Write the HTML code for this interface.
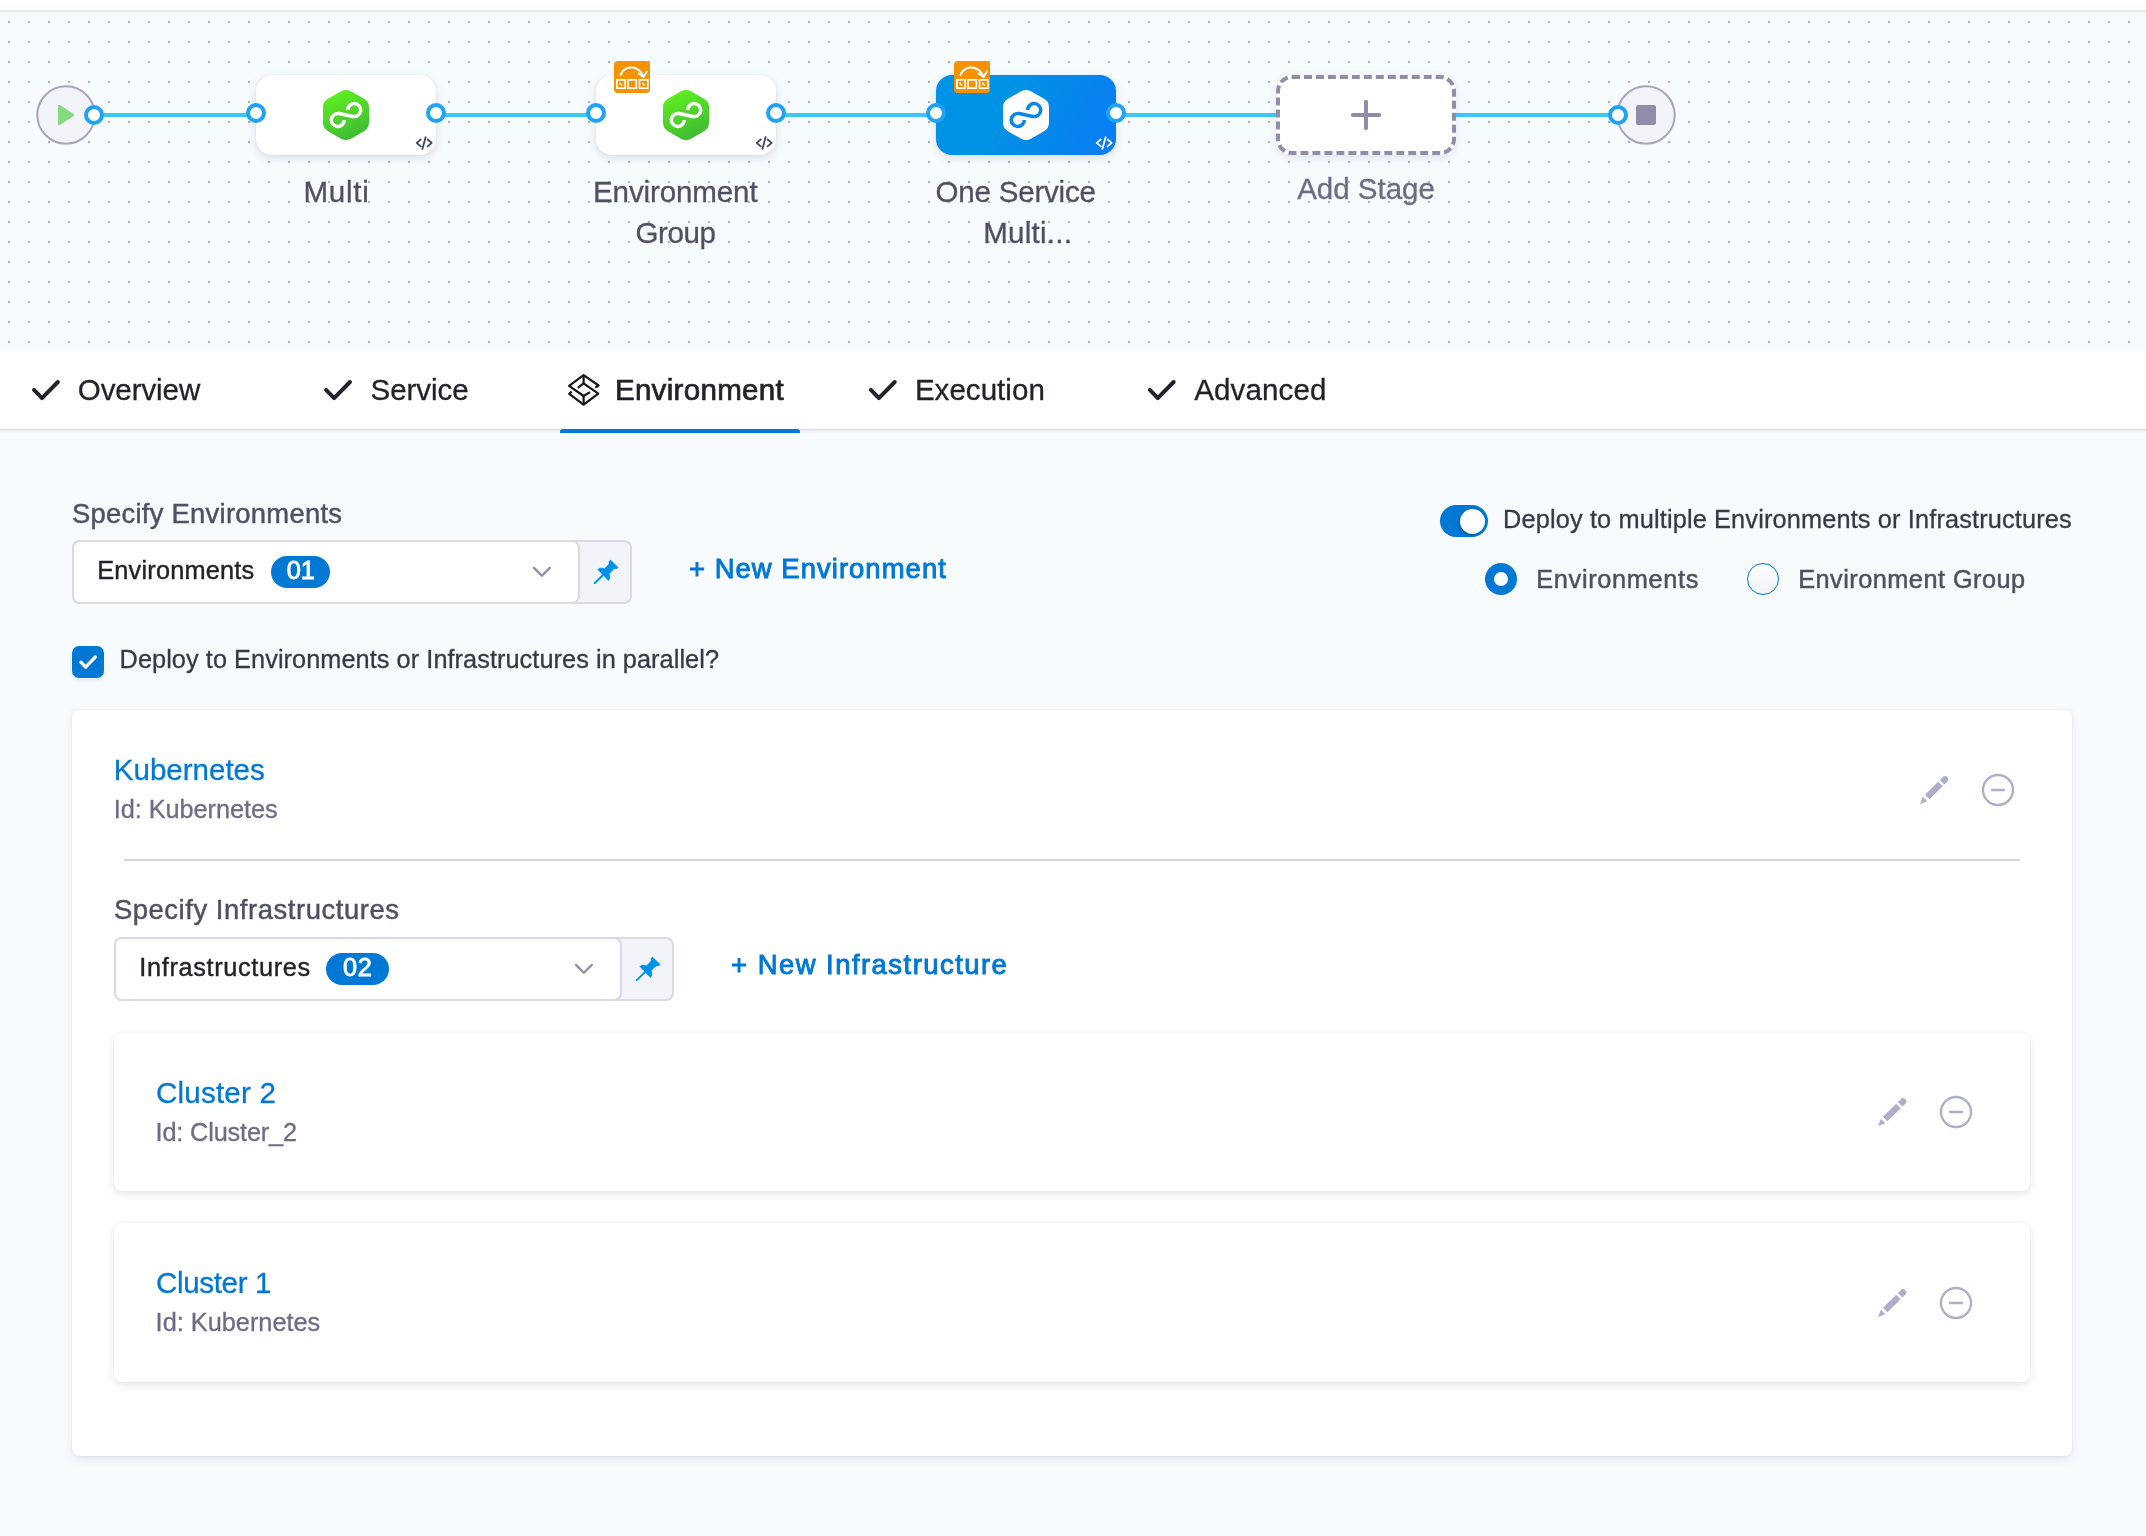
<!DOCTYPE html>
<html lang="en"><head><meta charset="utf-8"><title>Pipeline Studio</title>
<style>
*{box-sizing:border-box;margin:0;padding:0}
html,body{width:2146px;height:1536px;overflow:hidden}
body{position:relative;background:#f7fbfe;font-family:"Liberation Sans",sans-serif;-webkit-font-smoothing:antialiased}
.abs{position:absolute}
.t{position:absolute;white-space:nowrap;line-height:1;-webkit-text-stroke:.3px}
.canvas{left:0;top:12px;width:2146px;height:339px;background:#f6fbfe}
.node{position:absolute;top:75px;width:180px;height:80px;border-radius:16px;background:#fff;box-shadow:0 0 2px rgba(40,41,61,.06),0 3px 8px rgba(96,97,112,.18)}
.node.sel{background:linear-gradient(115deg,#0092e4 38%,#0a7bf5 100%)}
.node.add{border:4px dashed #8f8eaa;box-shadow:0 3px 8px rgba(96,97,112,.14)}
.tabbar{left:0;top:351px;width:2146px;height:78px;background:#fff;box-shadow:0 1px 0 #e3e3e6,0 2px 0 #ebecef,0 3px 0 #f1f3f6,0 4px 0 #f5f8fb}
.uline{left:560px;top:429px;width:240px;height:4px;background:#0278d5;border-radius:3px 3px 0 0}
.card{background:#fff;border-radius:8px}
.outer{left:72px;top:710px;width:2000px;height:746px;box-shadow:0 0 2px rgba(40,41,61,.06),0 3px 8px rgba(96,97,112,.15)}
.inner{left:114px;width:1916px;height:159px;box-shadow:0 0 2px rgba(40,41,61,.06),0 3px 8px rgba(96,97,112,.16)}
.selwrap{height:64px;width:560px;border:2px solid #d9dae5;border-radius:8px;background:#f3f3fa}
.selin{height:64px;width:508px;border:2px solid #d9dae5;border-radius:8px;background:#fff}
.pill{height:32px;border-radius:16px;background:#0278d5}
.cbx{left:72px;top:646px;width:32px;height:32px;border-radius:7px;background:#0278d5;box-shadow:0 0 0 1px rgba(255,255,255,.9),0 2px 4px rgba(2,120,213,.15)}
.toggle{left:1440px;top:505px;width:48px;height:32px;border-radius:16px;background:#0278d5}
.knob{left:1459.5px;top:508.5px;width:25px;height:25px;border-radius:50%;background:#fff;box-shadow:-1px 1px 3px rgba(0,0,0,.25)}
.radio{width:32px;height:32px;border-radius:50%}
</style></head>
<body>
<!-- top strip -->
<div class="abs" style="left:0;top:0;width:2146px;height:10px;background:#fff"></div>
<div class="abs" style="left:0;top:10px;width:2146px;height:1px;background:#ececee"></div>
<div class="abs" style="left:0;top:11px;width:2146px;height:1px;background:#e2e2e4"></div>

<!-- pipeline canvas -->
<div class="abs canvas"></div>
<svg class="abs" style="left:0;top:0" width="2146" height="350" viewBox="0 0 2146 350">
  <defs>
    <pattern id="dots" x="8" y="21" width="20" height="20" patternUnits="userSpaceOnUse"><rect x="0" y="0" width="2" height="2" fill="#abaeb3"/></pattern>
  </defs>
  <rect x="0" y="12" width="2146" height="338" fill="url(#dots)"/>
  <!-- connector lines -->
  <g fill="#3dc7f6">
    <rect x="94" y="113" width="162" height="4"/>
    <rect x="436" y="113" width="160" height="4"/>
    <rect x="776" y="113" width="160" height="4"/>
    <rect x="1116" y="113" width="160" height="4"/>
    <rect x="1456" y="113" width="162" height="4"/>
  </g>
  <!-- start / end -->
  <circle cx="66" cy="115" r="28.7" fill="#f3f3fa" stroke="#a8a4c0" stroke-width="2"/>
  <path d="M59.2,106 L73,115 L59.2,124 Z" fill="#86d981" stroke="#86d981" stroke-width="2.4" stroke-linejoin="round"/>
  <circle cx="1646" cy="115" r="28.7" fill="#f3f3fa" stroke="#a8a4c0" stroke-width="2"/>
  <rect x="1636" y="105" width="20" height="20" rx="2" fill="#8f8eaa"/>
</svg>

<!-- stage nodes -->
<div class="node" style="left:256px"></div>
<div class="node" style="left:596px"></div>
<div class="node sel" style="left:936px"></div>
<div class="node add" style="left:1276px"></div>

<svg class="abs" style="left:0;top:0" width="2146" height="350" viewBox="0 0 2146 350">
  <defs>
    <linearGradient id="gg" x1="0.3" y1="0" x2="0.7" y2="1"><stop offset="0" stop-color="#60f01f"/><stop offset="1" stop-color="#3db835"/></linearGradient>
    <path id="hex" d="M-5.00,-23.67 A10,10 0 0 1 5.00,-23.67 L18.00,-16.17 A10,10 0 0 1 23.00,-7.51 L23.00,7.51 A10,10 0 0 1 18.00,16.17 L5.00,23.67 A10,10 0 0 1 -5.00,23.67 L-18.00,16.17 A10,10 0 0 1 -23.00,7.51 L-23.00,-7.51 A10,10 0 0 1 -18.00,-16.17 Z"/>
    <path id="inf" d="M1.70,-4.90 A6.5,6.5 0 1 1 6.85,1.46 L-6.85,-1.46 A6.5,6.5 0 1 0 -1.70,4.90" fill="none" stroke-width="3.5"/>
    <g id="code" fill="none" stroke-width="1.8" stroke-linecap="round" stroke-linejoin="round">
      <path d="M4.7,3.5 L0.7,6.9 L4.7,10.4"/><path d="M9.6,1.2 L6.4,12.9"/><path d="M11.6,3.5 L15.7,6.9 L11.6,10.4"/>
    </g>
    <g id="badge">
      <rect x="0" y="0" width="36" height="32" rx="4" fill="#f79100"/>
      <path d="M6.5,13.9 C8.7,7.8 14.8,5.4 20,6.8 C24.2,8 27.5,11.2 29.3,15.4" fill="none" stroke="#fff" stroke-width="2" stroke-linecap="round"/>
      <path d="M24.6,12.5 L29.5,15.9 L32.7,10.7" fill="none" stroke="#fff" stroke-width="2" stroke-linecap="round" stroke-linejoin="round"/>
      <g fill="none" stroke="#fff" stroke-width="1.7">
        <rect x="2.9" y="18.9" width="8.3" height="8.3"/><rect x="14" y="18.9" width="8.3" height="8.3"/><rect x="25.5" y="18.9" width="8.3" height="8.3"/>
      </g>
      <path d="M6.1,22.4 L7.5,23.9 M28.7,22.4 L30.2,24" stroke="#fff" stroke-width="1.6" stroke-linecap="round"/>
    </g>
    <g id="port"><circle cx="0" cy="0" r="8" fill="#fff" stroke="#21a3f5" stroke-width="4"/></g>
  </defs>
  <!-- Add stage dashed -->
  <path d="M1352.8,115 H1379.2 M1366,101.7 V128.3" stroke="#8f8eaa" stroke-width="4" stroke-linecap="round"/>
  <!-- hex icons -->
  <g transform="translate(346,115)"><use href="#hex" fill="url(#gg)"/><use href="#inf" stroke="#fff"/></g>
  <g transform="translate(686,115)"><use href="#hex" fill="url(#gg)"/><use href="#inf" stroke="#fff"/></g>
  <g transform="translate(1026,115)"><use href="#hex" fill="#fff"/><use href="#inf" stroke="#0a86e9"/></g>
  <!-- code icons -->
  <use href="#code" x="416" y="136" stroke="#3c4658"/>
  <use href="#code" x="756" y="136" stroke="#3c4658"/>
  <use href="#code" x="1096" y="136" stroke="#fff"/>
  <!-- badges -->
  <use href="#badge" x="614" y="61"/>
  <use href="#badge" x="954" y="61"/>
  <!-- ports -->
  <use href="#port" x="94" y="115"/>
  <use href="#port" x="256" y="113"/><use href="#port" x="436" y="113"/>
  <use href="#port" x="596" y="113"/><use href="#port" x="776" y="113"/>
  <use href="#port" x="936" y="113"/><use href="#port" x="1116" y="113"/>
  <use href="#port" x="1618" y="115"/>
</svg>

<!-- tab bar -->
<div class="abs tabbar"></div>
<div class="abs uline"></div>
<svg class="abs" style="left:0;top:350px" width="2146" height="80" viewBox="0 350 2146 80">
  <defs><path id="chk" d="M2,9.9 L10,18.1 L25.85,2" fill="none" stroke="#22222a" stroke-width="4" stroke-linecap="round" stroke-linejoin="round"/></defs>
  <use href="#chk" x="32" y="380"/>
  <use href="#chk" x="324.1" y="380"/>
  <use href="#chk" x="868.9" y="380"/>
  <use href="#chk" x="1147.8" y="380"/>
  <g fill="none" stroke="#15151b" stroke-width="2.2" stroke-linejoin="round">
    <path d="M595.3,387.6 L598.6,385.5 L583.6,375.1 L569.1,385.8 L583.6,396 L590,392.1"/>
    <path d="M583.6,375.1 V383.3"/>
    <path d="M577.8,387.9 L583.6,383.3 L598.3,393.7 L583.6,404.6 L569.2,393.8 L571.7,391.6"/>
    <path d="M583.6,396 V404.6"/>
  </g>
</svg>

<!-- content -->
<div class="abs card outer"></div>
<div class="abs card inner" style="top:1033px;height:158px"></div>
<div class="abs card inner" style="top:1223px"></div>
<div class="abs" style="left:124px;top:859px;width:1896px;height:2px;background:#d7d7dc"></div>

<!-- selects -->
<div class="abs selwrap" style="left:72px;top:540px"></div>
<div class="abs selin" style="left:72px;top:540px"></div>
<div class="abs pill" style="left:271px;top:556px;width:59px"></div>
<div class="abs selwrap" style="left:114px;top:937px"></div>
<div class="abs selin" style="left:114px;top:937px"></div>
<div class="abs pill" style="left:326px;top:953px;width:63px"></div>

<!-- checkbox / toggle / radios -->
<div class="abs cbx"></div>
<div class="abs toggle"></div><div class="abs knob"></div>
<div class="abs radio" style="left:1485px;top:563px;border:9px solid #0278d5;background:#fff"></div>
<div class="abs radio" style="left:1747px;top:563px;border:1.5px solid #0278d5;background:linear-gradient(#fafcfe,#f3f4f9)"></div>

<!-- form icons -->
<svg class="abs" style="left:0;top:440px" width="2146" height="1096" viewBox="0 440 2146 1096">
  <defs>
    <g id="pin"><path d="M5.8,11.5 L8.1,10 L12.6,10.7 L17,6.2 L17.1,3.4 L18.4,2.1 L26.1,9.4 L24.8,10.7 L21.9,10.9 L17.3,15.6 L18,20 L16.5,22.6 Z" fill="#0092e4" stroke="#0092e4" stroke-width="0.6" stroke-linejoin="round"/><path d="M10.9,17.3 L2.7,25.1" stroke="#0092e4" stroke-width="1.9" stroke-linecap="round"/></g>
    <path id="chev" d="M0,0 L7.9,7.9 L15.8,0" fill="none" stroke="#8e8fa8" stroke-width="2.3" stroke-linecap="round" stroke-linejoin="round"/>
    <g id="pencil" fill="#adaec9" transform="rotate(-44.6)"><path d="M0,0 L7,-3.2 L7,3.2 Z"/><rect x="10" y="-3.2" width="18.6" height="6.4"/><path d="M30.9,-3.2 L35,-3.2 A3.2,3.2 0 0 1 35,3.2 L30.9,3.2 Z"/></g>
    <g id="minus" fill="none" stroke="#adaec9" stroke-width="2.3"><circle cx="0" cy="0" r="15"/><path d="M-6.1,0 H6.1" stroke-linecap="round"/></g>
  </defs>
  <use href="#pin" x="592" y="558"/>
  <use href="#pin" x="634" y="955"/>
  <use href="#chev" x="534" y="567.9"/>
  <use href="#chev" x="576" y="964.9"/>
  <path d="M80.9,662.2 L85.6,667.2 L95.2,657.1" fill="none" stroke="#fff" stroke-width="3.4" stroke-linecap="round" stroke-linejoin="round"/>
  <use href="#pencil" x="1920.1" y="804"/>
  <use href="#minus" x="1998" y="790"/>
  <use href="#pencil" x="1878.1" y="1126"/>
  <use href="#minus" x="1956" y="1112"/>
  <use href="#pencil" x="1878.1" y="1317"/>
  <use href="#minus" x="1956" y="1303"/>
</svg>

<div class="abs" style="left:0;top:0;width:2146px;height:1536px;will-change:transform">
<div class="t" style="left:303.40px;top:177.19px;font-size:29.54px;font-weight:400;color:#4f5162;letter-spacing:0.778px;">Multi</div>
<div class="t" style="left:593.00px;top:176.89px;font-size:29.54px;font-weight:400;color:#4f5162;letter-spacing:-0.118px;">Environment</div>
<div class="t" style="left:635.60px;top:218.39px;font-size:29.54px;font-weight:400;color:#4f5162;letter-spacing:-0.463px;">Group</div>
<div class="t" style="left:935.50px;top:176.89px;font-size:29.54px;font-weight:400;color:#4f5162;letter-spacing:-0.207px;">One Service</div>
<div class="t" style="left:983.20px;top:218.39px;font-size:29.54px;font-weight:400;color:#4f5162;letter-spacing:0.249px;">Multi...</div>
<div class="t" style="left:1297.20px;top:174.39px;font-size:29.54px;font-weight:400;color:#6b6d85;letter-spacing:-0.025px;">Add Stage</div>
<div class="t" style="left:77.80px;top:374.99px;font-size:29.54px;font-weight:400;color:#22222a;letter-spacing:-0.092px;">Overview</div>
<div class="t" style="left:370.60px;top:374.99px;font-size:29.54px;font-weight:400;color:#22222a;letter-spacing:-0.058px;">Service</div>
<div class="t" style="left:614.90px;top:374.99px;font-size:29.54px;font-weight:400;color:#22222a;letter-spacing:0.302px;-webkit-text-stroke:0.7px #22222a;">Environment</div>
<div class="t" style="left:914.90px;top:374.99px;font-size:29.54px;font-weight:400;color:#22222a;letter-spacing:0.029px;">Execution</div>
<div class="t" style="left:1194.20px;top:374.99px;font-size:29.54px;font-weight:400;color:#22222a;letter-spacing:0.139px;">Advanced</div>
<div class="t" style="left:72.00px;top:500.08px;font-size:27.43px;font-weight:400;color:#4f5162;letter-spacing:0.254px;-webkit-text-stroke:0.45px #4f5162;">Specify Environments</div>
<div class="t" style="left:97.20px;top:558.06px;font-size:25.32px;font-weight:400;color:#22222a;letter-spacing:0.209px;-webkit-text-stroke:0.4px #22222a;">Environments</div>
<div class="t" style="left:286.71px;top:558.46px;font-size:25.32px;font-weight:400;color:#fff;letter-spacing:0.000px;-webkit-text-stroke:0.9px #fff;">01</div>
<div class="t" style="left:688.90px;top:554.98px;font-size:27.43px;font-weight:400;color:#0278d5;letter-spacing:1.054px;-webkit-text-stroke:0.95px #0278d5;">+ New Environment</div>
<div class="t" style="left:1503.00px;top:507.46px;font-size:25.32px;font-weight:400;color:#383946;letter-spacing:0.150px;">Deploy to multiple Environments or Infrastructures</div>
<div class="t" style="left:1536.30px;top:567.26px;font-size:25.32px;font-weight:400;color:#4f5162;letter-spacing:0.664px;-webkit-text-stroke:0.5px #4f5162;">Environments</div>
<div class="t" style="left:1798.20px;top:567.36px;font-size:25.32px;font-weight:400;color:#4f5162;letter-spacing:0.468px;-webkit-text-stroke:0.5px #4f5162;">Environment Group</div>
<div class="t" style="left:119.60px;top:647.46px;font-size:25.32px;font-weight:400;color:#383946;letter-spacing:0.054px;">Deploy to Environments or Infrastructures in parallel?</div>
<div class="t" style="left:113.80px;top:754.99px;font-size:29.54px;font-weight:400;color:#0278d5;letter-spacing:-0.009px;">Kubernetes</div>
<div class="t" style="left:113.70px;top:797.26px;font-size:25.32px;font-weight:400;color:#6b6d85;letter-spacing:-0.045px;">Id: Kubernetes</div>
<div class="t" style="left:113.90px;top:895.88px;font-size:27.43px;font-weight:400;color:#4f5162;letter-spacing:0.555px;-webkit-text-stroke:0.45px #4f5162;">Specify Infrastructures</div>
<div class="t" style="left:139.30px;top:954.76px;font-size:25.32px;font-weight:400;color:#22222a;letter-spacing:0.649px;-webkit-text-stroke:0.4px #22222a;">Infrastructures</div>
<div class="t" style="left:343.11px;top:955.36px;font-size:25.32px;font-weight:400;color:#fff;letter-spacing:0.600px;-webkit-text-stroke:0.9px #fff;">02</div>
<div class="t" style="left:731.10px;top:951.38px;font-size:27.43px;font-weight:400;color:#0278d5;letter-spacing:1.479px;-webkit-text-stroke:0.95px #0278d5;">+ New Infrastructure</div>
<div class="t" style="left:156.00px;top:1077.79px;font-size:29.54px;font-weight:400;color:#0278d5;letter-spacing:0.207px;">Cluster 2</div>
<div class="t" style="left:155.60px;top:1120.26px;font-size:25.32px;font-weight:400;color:#6b6d85;letter-spacing:-0.169px;">Id: Cluster_2</div>
<div class="t" style="left:156.00px;top:1267.79px;font-size:29.54px;font-weight:400;color:#0278d5;letter-spacing:-0.343px;">Cluster 1</div>
<div class="t" style="left:155.60px;top:1310.36px;font-size:25.32px;font-weight:400;color:#6b6d85;letter-spacing:0.001px;">Id: Kubernetes</div>
</div>
</body></html>
